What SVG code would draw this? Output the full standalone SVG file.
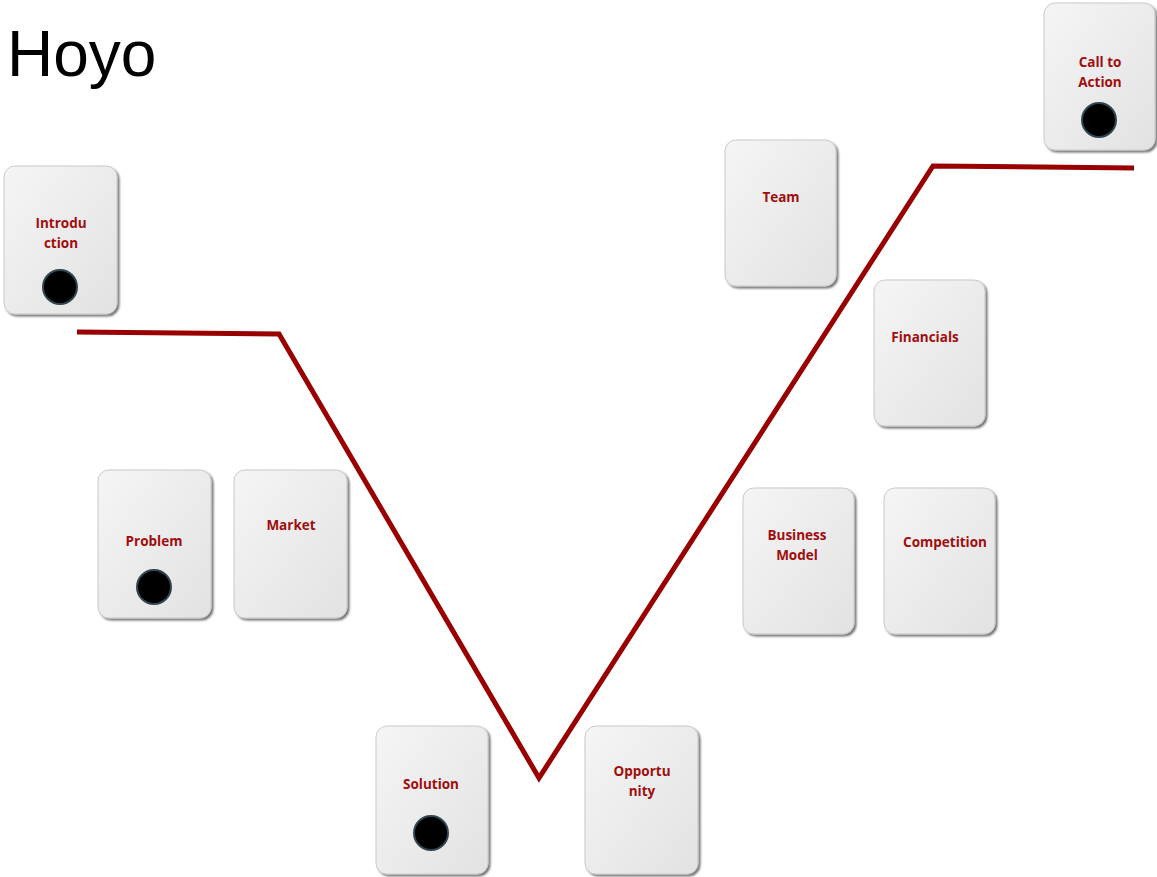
<svg xmlns="http://www.w3.org/2000/svg" width="1157" height="877" viewBox="0 0 1157 877">
  <defs>
    <linearGradient id="cardFill" x1="0" y1="0" x2="1" y2="1">
      <stop offset="0" stop-color="#f5f5f5"/>
      <stop offset="1" stop-color="#e2e2e2"/>
    </linearGradient>
    <filter id="cardShadow" x="-10%" y="-10%" width="125%" height="125%">
      <feGaussianBlur in="SourceAlpha" stdDeviation="1.2"/>
      <feOffset dx="1.5" dy="1.5" result="b"/>
      <feComponentTransfer><feFuncA type="linear" slope="0.55"/></feComponentTransfer>
      <feMerge><feMergeNode/><feMergeNode in="SourceGraphic"/></feMerge>
    </filter>
  </defs>
  <style>
    .card { fill: url(#cardFill); stroke: #c9c9c9; stroke-width: 1; filter: url(#cardShadow); }
    .lbl { font-family: "Open Sans", "Liberation Sans", sans-serif; font-weight: bold; font-size: 13.5px; fill: #a00d0d; text-anchor: middle; }
    .dot { fill: #000; stroke: #2f4550; stroke-width: 2; }
    .path { fill: none; stroke: #990000; stroke-width: 5; stroke-linejoin: miter; }
    .title { font-family: "Liberation Sans", Arial, sans-serif; font-size: 64px; fill: #000; }
  </style>

  <rect width="1157" height="877" fill="#fff"/>
  <text class="title" x="7" y="76">Hoyo</text>

  <g id="connectors">
    <polyline class="path" points="77,332 279,334 539,778 933,166 1134,168"/>
  </g>

  <g id="introduction">
    <rect class="card" x="4" y="166" width="113" height="148" rx="11"/>
    <text class="lbl" x="61" y="228">Introdu</text>
    <text class="lbl" x="61" y="248">ction</text>
    <circle class="dot" cx="60" cy="287" r="17"/>
  </g>
  <g id="problem">
    <rect class="card" x="98" y="470" width="113" height="148" rx="11"/>
    <text class="lbl" x="154" y="546">Problem</text>
    <circle class="dot" cx="154" cy="587" r="17"/>
  </g>
  <g id="market">
    <rect class="card" x="234" y="470" width="113" height="148" rx="11"/>
    <text class="lbl" x="291" y="530">Market</text>
  </g>
  <g id="solution">
    <rect class="card" x="376" y="726" width="112" height="148" rx="11"/>
    <text class="lbl" x="431" y="789">Solution</text>
    <circle class="dot" cx="431" cy="833" r="17"/>
  </g>
  <g id="opportunity">
    <rect class="card" x="585" y="726" width="113" height="148" rx="11"/>
    <text class="lbl" x="642" y="776">Opportu</text>
    <text class="lbl" x="642" y="796">nity</text>
  </g>
  <g id="team">
    <rect class="card" x="725" y="140" width="111" height="146" rx="11"/>
    <text class="lbl" x="781" y="202">Team</text>
  </g>
  <g id="financials">
    <rect class="card" x="874" y="280" width="111" height="146" rx="11"/>
    <text class="lbl" x="925" y="342">Financials</text>
  </g>
  <g id="business-model">
    <rect class="card" x="743" y="488" width="111" height="146" rx="11"/>
    <text class="lbl" x="797" y="540">Business</text>
    <text class="lbl" x="797" y="560">Model</text>
  </g>
  <g id="competition">
    <rect class="card" x="884" y="488" width="111" height="146" rx="11"/>
    <text class="lbl" x="945" y="547">Competition</text>
  </g>
  <g id="call-to-action">
    <rect class="card" x="1044" y="3" width="111" height="147" rx="11"/>
    <text class="lbl" x="1100" y="67">Call to</text>
    <text class="lbl" x="1100" y="87">Action</text>
    <circle class="dot" cx="1099" cy="120" r="17"/>
  </g>
</svg>
